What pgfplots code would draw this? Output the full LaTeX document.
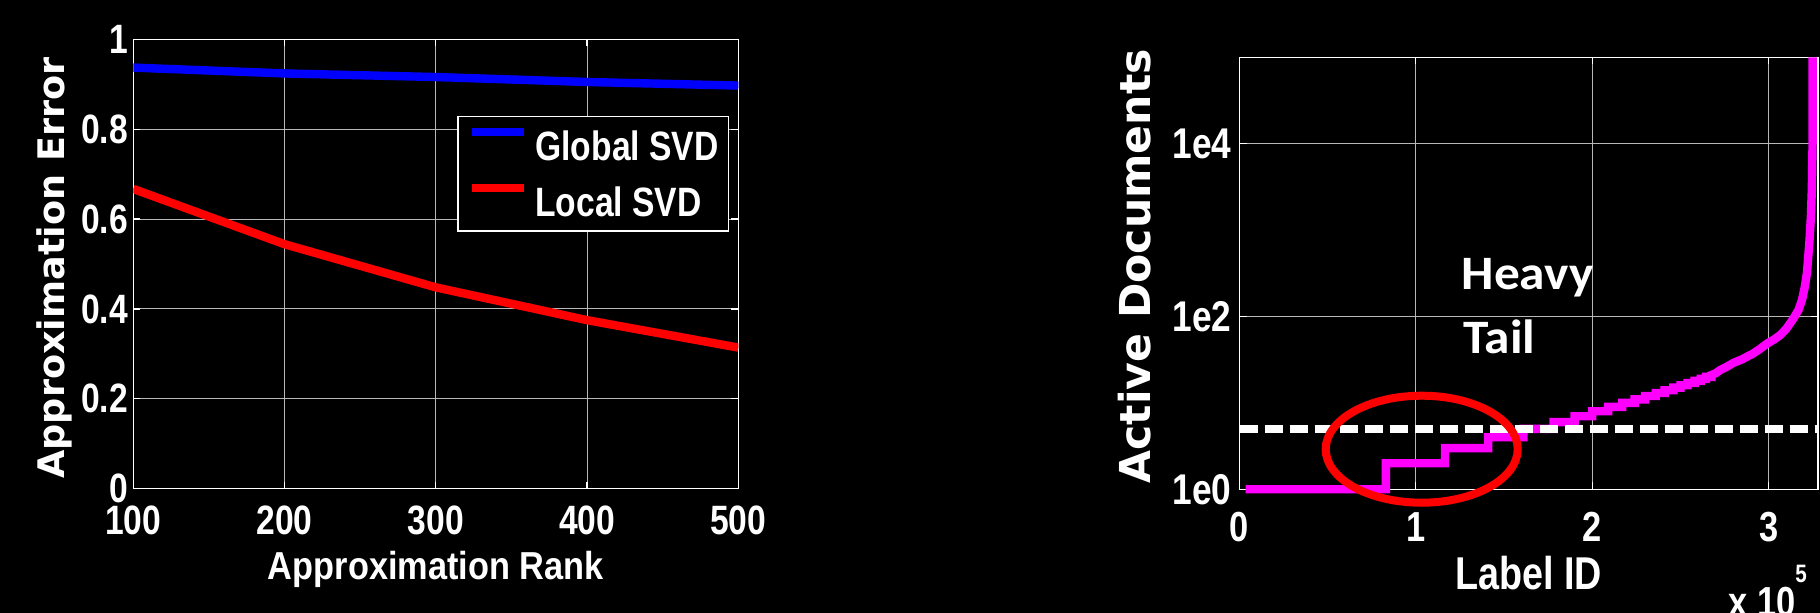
\documentclass[border=0pt]{standalone}
\usepackage{fontspec}
\usepackage{pgfplots}
\pgfplotsset{compat=1.18}
\setmainfont{Liberation Sans}
\newfontfamily\nar{Liberation Sans}[FakeStretch=0.82]
\newfontfamily\narb{Liberation Sans}[FakeStretch=0.88]
\newfontfamily\wide{DejaVu Sans}
\newfontfamily\heavyfont{Carlito}[FakeStretch=1.07]
\definecolor{mag}{RGB}{255,0,255}
\definecolor{pblue}{RGB}{0,0,255}
\definecolor{pred}{RGB}{255,0,0}

\pgfplotsset{
  mystyle/.style={
    scale only axis,
    anchor=south west,
    axis line style={white, line width=0.75pt},
    tick style={white, line width=0.6pt},
    major tick length=3.5pt,
    tick align=inside,
    grid=major,
    major grid style={black!28, line width=0.5pt},
    /pgf/number format/assume math mode=true,
  }
}

\begin{document}
\begin{tikzpicture}
\fill[black] (0,0) rectangle (910pt,306.5pt);
\useasboundingbox (0,0) rectangle (910pt,306.5pt);

% ---------------- left panel ----------------
\begin{axis}[mystyle,
  at={(66.65pt,62.15pt)}, width=302.5pt, height=224.7pt,
  xmin=100, xmax=500, ymin=0, ymax=1,
  xtick={100,200,300,400,500}, ytick={0,0.2,0.4,0.6,0.8,1},
  xticklabel style={font=\nar\bfseries\fontsize{20.5}{24}\selectfont, text=white, anchor=base, yshift=-23.15pt},
  yticklabel style={font=\nar\bfseries\fontsize{20.5}{24}\selectfont, text=white, anchor=east, inner sep=0pt, xshift=-2.5pt},
  xlabel={Approximation Rank},
  ylabel={Approximation Error},
  every axis x label/.style={at={(axis description cs:0.5,-0.2016)}, anchor=base, font=\narb\bfseries\fontsize{19.5}{23}\selectfont, text=white},
  every axis y label/.style={at={(axis description cs:-0.131,0.491)}, rotate=90, anchor=center, font=\wide\bfseries\fontsize{18.3}{22}\selectfont, text=white},
  legend style={at={(0.5355,0.830)}, anchor=north west, draw=white, line width=0.75pt, fill=black, text=white,
    font=\nar\bfseries\fontsize{20.5}{24}\selectfont, inner xsep=5pt, inner ysep=5.6pt,
    row sep=10pt, column sep=3.5pt, nodes={inner sep=0pt}, cells={anchor=west}},
  legend image code/.code={\path (0pt,0pt); \draw[#1] (0pt,7.8pt) -- (26pt,7.8pt);},
]
\addplot[pblue, line width=4.2pt] coordinates {(100,0.937) (200,0.924) (300,0.916) (400,0.905) (500,0.897)};
\addlegendentry{Global SVD}
\addplot[pred, line width=4.2pt] coordinates {(100,0.667) (200,0.544) (300,0.448) (400,0.375) (500,0.314)};
\addlegendentry{Local SVD}
\end{axis}

% ---------------- right panel ----------------
\begin{axis}[mystyle,
  at={(619.75pt,61.85pt)}, width=289.25pt, height=216pt,
  xmin=0, xmax=3.28, ymode=log, ymin=1, ymax=1e5,
  xtick={0,1,2,3}, ytick={1,100,10000}, yticklabels={1e0,1e2,1e4},
  yminorticks=false, clip=false,
  xticklabel style={font=\nar\bfseries\fontsize{21}{25}\selectfont, text=white, anchor=base, yshift=-26.2pt},
  yticklabel style={font=\nar\bfseries\fontsize{21.5}{25}\selectfont, text=white, anchor=east, inner sep=0pt, xshift=-3.9pt},
  xlabel={Label ID}, ylabel={Active Documents},
  every axis x label/.style={at={(axis description cs:0.5,-0.233)}, anchor=base, font=\nar\bfseries\fontsize{23}{27}\selectfont, text=white},
  every axis y label/.style={at={(axis description cs:-0.1806,0.516)}, rotate=90, anchor=center, font=\wide\bfseries\fontsize{21.3}{25}\selectfont, text=white},
]
\addplot[mag, line width=4.2pt] coordinates {
(0.035,1) (0.83,1) (0.83,2) (1.165,2) (1.165,3) (1.41,3) (1.41,4) (1.61,4) (1.61,5)
(1.78,5) (1.78,6) (1.90,6) (1.90,7) (2.00,7) (2.00,8) (2.09,8) (2.09,9) (2.17,9)
(2.17,10) (2.24,10) (2.24,11) (2.30,11) (2.30,12) (2.36,12) (2.36,13) (2.41,13)
(2.41,14) (2.46,14) (2.46,15) (2.50,15) (2.50,16) (2.54,16) (2.54,17) (2.58,17)
(2.58,18) (2.615,18) (2.615,19) (2.645,19) (2.645,20) (2.675,20) (2.675,21)
(2.70,22) (2.725,24) (2.76,26) (2.80,29) (2.85,32) (2.914,37.5) (2.95,42)
(2.994,49) (3.03,54) (3.066,61) (3.10,72) (3.141,95) (3.17,120) (3.189,155)
(3.205,220) (3.217,316) (3.232,768) (3.24,1500) (3.245,3000) (3.249,10000) (3.249,100000)
};
\addplot[white, line width=4pt, dash pattern=on 9pt off 3.5pt] coordinates {(0,5) (3.28,5)};
\draw[pred, line width=4pt] (axis cs:1.033,2.91) ellipse [x radius=48pt, y radius=26.75pt];
\end{axis}

\node[anchor=base west, text=white, inner sep=0pt, font=\heavyfont\bfseries\fontsize{24}{28}\selectfont] at (730.65pt,161.85pt) {Heavy};
\node[anchor=base west, text=white, inner sep=0pt, font=\heavyfont\bfseries\fontsize{24}{28}\selectfont] at (731.5pt,129.6pt) {Tail};
\node[anchor=base west, text=white, inner sep=0pt, font=\nar\bfseries\fontsize{21}{25}\selectfont] at (864pt,-2pt) {x 10\raisebox{17pt}{\fontsize{12.6}{14}\selectfont 5}};
\end{tikzpicture}
\end{document}
